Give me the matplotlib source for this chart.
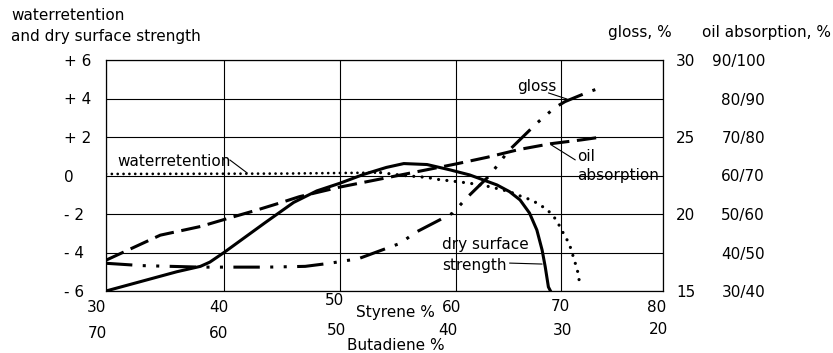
import numpy as np
import matplotlib
matplotlib.use("Agg")
import matplotlib.pyplot as plt
from matplotlib import transforms as mtransforms

plt.rcParams['font.family'] = ['DejaVu Sans']
plt.rcParams['font.size'] = 11
plt.rcParams['lines.scale_dashes'] = False

# ---------------- data ----------------
styrene_ticks = [30, 40, 50, 60, 70, 80]
butadiene_ticks = [70, 60, 50, 40, 30, 20]
left_ticks = [6, 4, 2, 0, -2, -4, -6]
left_labels = ['+ 6', '+ 4', '+ 2', '0', '- 2', '- 4', '- 6']
gloss_ticks = [30, 25, 20, 15]
oil_ticks = [90, 80, 70, 60, 50, 40, 30]
oil_labels = ['90/100', '80/90', '70/80', '60/70', '50/60', '40/50', '30/40']

# dry surface strength (left axis)
dry_x = [30, 33, 36, 38, 38.8, 40, 43.5, 46, 48, 50, 52, 54, 55.5, 57.5, 59.5,
         61.3, 62.6, 63.9, 65.1, 66.1, 67.0, 67.7, 68.2, 68.5, 68.8, 69.0]
dry_v = [-6, -5.5, -5.0, -4.72, -4.5, -4.0, -2.47, -1.4, -0.8, -0.4, 0.05, 0.42, 0.62, 0.57, 0.29,
         0.03, -0.23, -0.49, -0.84, -1.27, -1.95, -2.83, -3.87, -4.75, -5.79, -6.0]

# waterretention (left axis)
wr_x = [30, 45, 53.5, 55.5, 57.5, 58.4, 60.1, 61.3, 63.2, 65.1, 66.1, 67, 67.9, 68.8,
        69.5, 69.9, 70.2, 70.6, 70.9, 71.1, 71.3, 71.6, 71.9]
wr_v = [0.08, 0.1, 0.15, 0.0, -0.1, -0.2, -0.32, -0.4, -0.58, -0.84, -1.06, -1.24, -1.48, -1.84,
        -2.27, -2.66, -2.97, -3.35, -3.7, -4.04, -4.39, -4.9, -5.8]

# oil absorption (lower bound of class, %)
oil_x = [30, 34.6, 38, 40.5, 42.8, 44.8, 46.5, 50, 55, 60, 63, 66, 69, 72, 74]
oil_v = [38, 44.5, 46.75, 49, 51, 52.85, 54.5, 57, 60, 63, 64.75, 66.75, 68.25, 69.25, 70]

# gloss, %
gloss_x = [30, 33, 38, 43.7, 47, 49.1, 51.6, 55.2, 56.5, 59.7, 61.1, 63.2, 65, 67.7, 69.4, 70.4, 72.6, 74.1]
gloss_v = [16.8, 16.65, 16.55, 16.55, 16.6, 16.8, 17.1, 18.1, 18.8, 20.05, 21.1, 22.5, 24.1, 25.9,
           26.9, 27.3, 27.9, 28.25]

# ---------------- layout ----------------
W, H = 833, 353
fig = plt.figure(figsize=(W / 100, H / 100), dpi=100)
ax = fig.add_axes([106 / W, 62 / H, 557 / W, 231 / H])

# the original drawing has slightly uneven spacing of the styrene grid
grid_frac = np.array([0, 118, 234, 350, 455, 557]) / 557.0


def fwd(x):
    return np.interp(np.asarray(x, dtype=float), styrene_ticks, grid_frac)


def inv(u):
    return np.interp(np.asarray(u, dtype=float), grid_frac, styrene_ticks)


ax.set_xscale('function', functions=(fwd, inv))
ax.set_xlim(30, 80)
ax.set_ylim(-6, 6)
ax.set_xticks(styrene_ticks)
ax.set_xticklabels([])
ax.set_yticks(left_ticks)
ax.set_yticklabels(left_labels)
ax.tick_params(axis='x', length=0)
ax.tick_params(axis='y', length=0, pad=30.5)
for lbl in ax.get_yticklabels():
    lbl.set_horizontalalignment('left')
ax.grid(True, color='black', lw=0.8)
ax.set_axisbelow(True)
for s in ax.spines.values():
    s.set_linewidth(0.9)
    s.set_color('black')

ax_g = ax.twinx()
ax_g.set_ylim(15, 30)
ax_g.set_yticks(gloss_ticks)
ax_g.tick_params(axis='y', length=0, pad=9.5)
for s in ax_g.spines.values():
    s.set_visible(False)

ax_o = ax.twinx()
ax_o.set_ylim(30, 90)
ax_o.set_yticks(oil_ticks)
ax_o.set_yticklabels(oil_labels)
ax_o.tick_params(axis='y', length=0, pad=73.5)
for lbl in ax_o.get_yticklabels():
    lbl.set_horizontalalignment('right')
for s in ax_o.spines.values():
    s.set_visible(False)

# ---------------- series ----------------
ax.plot(dry_x, dry_v, color='black', lw=2.2, solid_joinstyle='round')
k = wr_x.index(53.5)
ax.plot(wr_x[:k + 1], wr_v[:k + 1], color='black', lw=2.0, dashes=(0.01, 4.2),
        dash_capstyle='round')
ax.plot(wr_x[k:], wr_v[k:], color='black', lw=2.3, dashes=(0.01, 6.0),
        dash_capstyle='round')
ax_o.plot(oil_x, oil_v, color='black', lw=2.2, dashes=(14, 5.5))
ax_g.plot(gloss_x, gloss_v, color='black', lw=2.2, dashes=(19, 7.5, 2.2, 7.5, 2.2, 7.5))

# ---------------- labels inside ----------------
lp = dict(arrowstyle='-', lw=0.8, color='black', shrinkA=0, shrinkB=0)
ax.text(30.93, 0.75, 'waterretention', va='center', ha='left')
ax.annotate('', xy=(42.0, 0.13), xytext=(40.5, 0.81), arrowprops=lp)
ax.text(65.8, 4.39, 'gloss', va='baseline', ha='left')
ax.annotate('', xy=(70.6, 3.97), xytext=(68.8, 4.29), arrowprops=lp)
ax.text(71.6, 0.75, 'oil', va='baseline', ha='left')
ax.text(71.6, -0.23, 'absorption', va='baseline', ha='left')
ax.annotate('', xy=(71.4, 0.81), xytext=(69.1, 1.58), arrowprops=lp)
ax.text(58.8, -3.82, 'dry surface', va='baseline', ha='left')
ax.text(58.8, -4.91, 'strength', va='baseline', ha='left')
ax.annotate('', xy=(68.2, -4.6), xytext=(65.1, -4.55), arrowprops=lp)

# ---------------- x labels (two rows) ----------------
xt = ax.get_xaxis_transform()
row1_y = [-0.071, -0.071, -0.039, -0.071, -0.065, -0.071]
row1_dx = [-9, -5, -5, -4, -1, -6]
row2_y = [-0.182, -0.182, -0.173, -0.173, -0.173, -0.165]
row2_dx = [-9, -5.5, -4, -8, 1.5, -4.5]
for i, (s, b) in enumerate(zip(styrene_ticks, butadiene_ticks)):
    t1 = mtransforms.offset_copy(xt, fig=fig, x=row1_dx[i], y=0, units='dots')
    ax.text(s, row1_y[i], str(s), transform=t1, ha='center', va='center', clip_on=False)
    t2 = mtransforms.offset_copy(xt, fig=fig, x=row2_dx[i], y=0, units='dots')
    ax.text(s, row2_y[i], str(b), transform=t2, ha='center', va='center', clip_on=False)
ax.text(51.4, -0.095, 'Styrene %', transform=xt, ha='left', va='center')
ax.text(50.6, -0.234, 'Butadiene %', transform=xt, ha='left', va='center')

# ---------------- headers ----------------
fig.text(11 / W, 1 - 16 / H, 'waterretention', ha='left', va='center')
fig.text(11 / W, 1 - 37 / H, 'and dry surface strength', ha='left', va='center')
fig.text(608 / W, 1 - 33 / H, 'gloss, %', ha='left', va='center')
fig.text(702 / W, 1 - 33 / H, 'oil absorption, %', ha='left', va='center')

fig.savefig('out.png', dpi=100)
